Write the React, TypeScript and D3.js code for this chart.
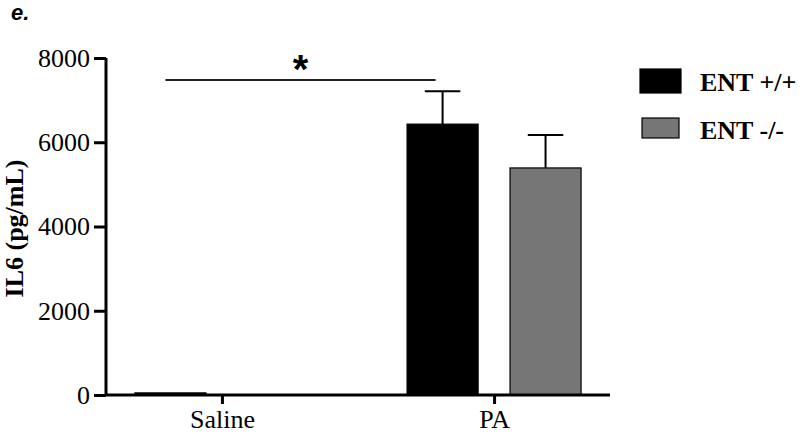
import React, { useEffect, useRef } from 'react';
import * as d3 from 'd3';

const groups = ['Saline', 'PA'];
const series = ['ENT +/+', 'ENT -/-'];
const means = [
    [50, 0],
    [6430, 5390],
];
const errors = [
    [10, 0],
    [780, 780],
];
const yTicks = [0, 2000, 4000, 6000, 8000];
const sigLevel = 7480;

const colors: { [key: string]: string } = {
    'ENT +/+': '#000000',
    'ENT -/-': '#767676',
};

const App: React.FC = () => {
    const chartRef = useRef<SVGSVGElement | null>(null);

    useEffect(() => {
        document.body.style.margin = '0';
        if (!chartRef.current) return;
        const svg = d3.select(chartRef.current);
        svg.selectAll('*').remove();

        const serif = '"Liberation Serif", "Times New Roman", serif';
        const sans = '"Liberation Sans", Arial, sans-serif';
        const left = 106;
        const right = 610;
        const bottom = 395;
        const top = 58;

        const y = d3.scaleLinear().domain([0, 8000]).range([bottom, top]);
        const x0 = d3.scalePoint().domain(groups).range([left, right]).padding(0.426);
        const x1 = d3.scaleBand().domain(series).range([-87, 87]).paddingInner(0.31);

        // panel letter
        svg.append('text')
            .attr('x', 11)
            .attr('y', 20)
            .style('font-family', sans)
            .style('font-weight', 'bold')
            .style('font-style', 'italic')
            .style('font-size', '22px')
            .text('e.');

        // bars
        const g = svg.append('g');
        groups.forEach((grp, gi) => {
            series.forEach((s, si) => {
                const v = means[gi][si];
                const bx = (x0(grp) as number) + (x1(s) as number);
                const bw = x1.bandwidth();
                if (v > 0) {
                    g.append('rect')
                        .attr('x', bx)
                        .attr('y', y(v))
                        .attr('width', bw)
                        .attr('height', bottom - y(v))
                        .attr('fill', colors[s])
                        .attr('stroke', '#000')
                        .attr('stroke-width', 1.2);
                }
                const e = errors[gi][si];
                if (e > 0 && v > 100) {
                    const cx = bx + bw / 2;
                    g.append('line')
                        .attr('x1', cx).attr('x2', cx)
                        .attr('y1', y(v)).attr('y2', y(v + e))
                        .attr('stroke', '#000').attr('stroke-width', 2);
                    g.append('line')
                        .attr('x1', cx - bw / 4).attr('x2', cx + bw / 4)
                        .attr('y1', y(v + e)).attr('y2', y(v + e))
                        .attr('stroke', '#000').attr('stroke-width', 2);
                }
            });
        });

        // y axis
        const yAxis = d3.axisLeft(y).tickValues(yTicks).tickSize(12).tickPadding(4).tickFormat((d) => `${d}`);
        const ya = svg.append('g').attr('transform', `translate(${left}, 0)`).call(yAxis);
        ya.select('.domain').attr('d', `M0,${top}V${bottom}`);

        // x axis
        const xAxis = d3.axisBottom(x0).tickSize(9).tickPadding(6);
        const xa = svg.append('g').attr('transform', `translate(0, ${bottom})`).call(xAxis);
        xa.select('.domain').attr('d', `M${left},0H${right}`);

        [ya, xa].forEach((a) => {
            a.attr('font-family', serif).attr('font-size', 26);
            a.selectAll('path, line').attr('stroke', '#000').attr('stroke-width', 3);
            a.selectAll('text')
                .attr('fill', '#000')
                .attr('font-family', serif)
                .style('font-family', serif)
                .style('font-size', '26px');
        });

        // y label
        svg.append('text')
            .attr('transform', `translate(23, ${(top + bottom) / 2 + 2}) rotate(-90)`)
            .attr('text-anchor', 'middle')
            .attr('fill', '#000')
            .style('font-family', serif)
            .style('font-weight', 'bold')
            .style('font-size', '26px')
            .text('IL6 (pg/mL)');

        // significance
        const sx1 = (x0('Saline') as number) + (x1('ENT +/+') as number) + x1.bandwidth() / 2 - 5;
        const sx2 = (x0('PA') as number) + (x1('ENT +/+') as number) + x1.bandwidth() / 2 - 7;
        svg.append('line')
            .attr('x1', sx1).attr('x2', sx2)
            .attr('y1', y(sigLevel)).attr('y2', y(sigLevel))
            .attr('stroke', '#222').attr('stroke-width', 2);
        svg.append('text')
            .attr('x', (sx1 + sx2) / 2)
            .attr('y', y(sigLevel) + 3)
            .attr('text-anchor', 'middle')
            .style('font-family', sans)
            .style('font-weight', 'bold')
            .style('font-size', '40px')
            .text('*');

        // legend
        const legend = svg.append('g');
        series.forEach((s, i) => {
            const ly = 69 + i * 48;
            legend.append('rect')
                .attr('x', 640 + i * 2)
                .attr('y', ly + i * 1)
                .attr('width', 41 - i * 4)
                .attr('height', 24 - i * 4)
                .attr('fill', colors[s])
                .attr('stroke', '#000')
                .attr('stroke-width', 1.2);
            legend.append('text')
                .attr('x', 700)
                .attr('y', ly + 22)
                .style('font-family', serif)
                .style('font-weight', 'bold')
                .style('font-size', '26px')
                .text(s);
        });
    }, []);

    return <svg ref={chartRef} width={800} height={434} style={{ display: 'block' }} />;
};

export default App;
